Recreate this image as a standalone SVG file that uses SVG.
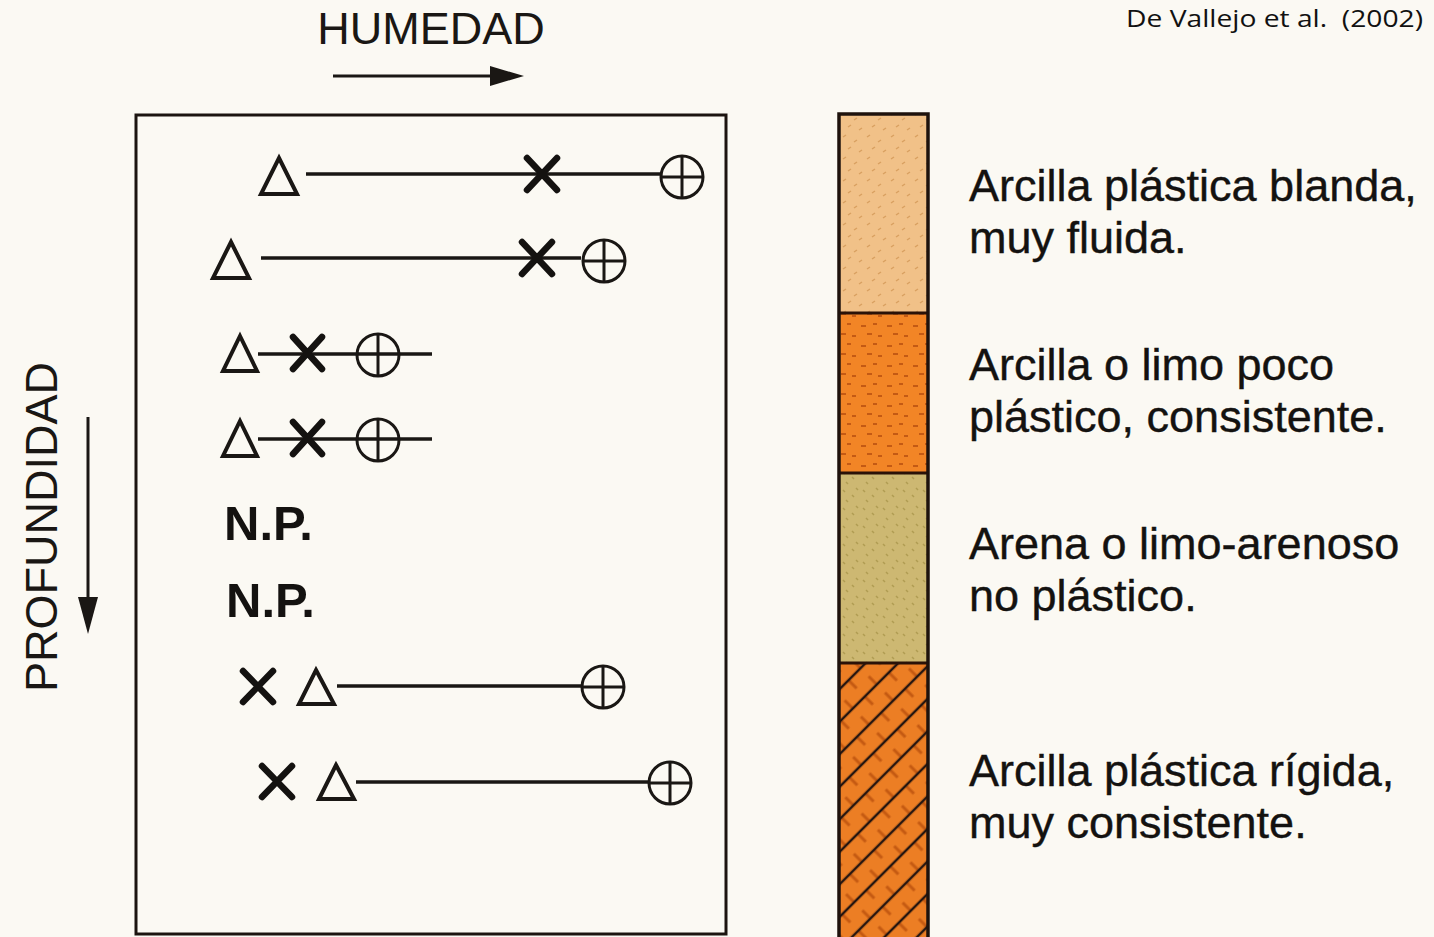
<svg xmlns="http://www.w3.org/2000/svg" width="1434" height="937" viewBox="0 0 1434 937">
  <style>
    .lbl { font-family: "Liberation Sans", Arial, sans-serif; font-size: 45px; fill: #141210; stroke: #141210; stroke-width: 0.4px; }
    .np { font-family: "Liberation Sans", Arial, sans-serif; font-size: 49px; font-weight: bold; fill: #141210; }
    .axis { font-family: "Liberation Sans", Arial, sans-serif; font-size: 45px; fill: #1a1714; }
    .cite { font-family: "Open Sans", "Liberation Sans", sans-serif; font-size: 24px; fill: #111; }
    .rng { stroke: #1a1714; stroke-width: 3.5; fill: none; }
    .tri { stroke: #1a1714; stroke-width: 4; fill: none; stroke-linejoin: miter; }
    .cross { stroke: #141210; stroke-width: 6.5; stroke-linecap: round; fill: none; }
    .liq { stroke: #1a1714; stroke-width: 3; fill: none; }
    .frame { stroke: #1c1410; stroke-width: 3; fill: none; }
    .shaft { stroke: #1a1714; stroke-width: 3; }
    .head { fill: #1a1714; }
  </style>
  <defs>
    <!-- speckle textures for the soil column -->
    <pattern id="speckTan" width="24" height="22" patternUnits="userSpaceOnUse">
      <rect width="24" height="22" fill="#f1c188"/>
      <path d="M3,5 l3,-2 M14,10 l3,-2 M8,17 l3,-2 M19,20 l3,-2" stroke="#d9a060" stroke-width="1.5"/>
    </pattern>
    <pattern id="speckOrange" width="26" height="20" patternUnits="userSpaceOnUse">
      <rect width="26" height="20" fill="#f28526"/>
      <path d="M3,6 h5 M15,4 h4 M9,14 h5 M20,16 h4" stroke="#c45a14" stroke-width="2"/>
    </pattern>
    <pattern id="speckOlive" width="20" height="18" patternUnits="userSpaceOnUse">
      <rect width="20" height="18" fill="#cdb872"/>
      <path d="M3,4 l2,2 M12,9 l2,2 M6,14 l2,2 M16,2 l2,2" stroke="#b09c52" stroke-width="1.5"/>
    </pattern>
    <!-- brick hatching for stiff clay -->
    <pattern id="brick" width="23" height="34" patternUnits="userSpaceOnUse" patternTransform="rotate(45)">
      <rect width="23" height="34" fill="#ec7e24"/>
      <path d="M0,17 H11.5 M11.5,0 H23 M11.5,34 H23" stroke="#c55a12" stroke-width="3"/>
      <line x1="0" y1="0" x2="0" y2="34" stroke="#241510" stroke-width="2.5"/>
      <line x1="23" y1="0" x2="23" y2="34" stroke="#241510" stroke-width="2.5"/>
    </pattern>
  </defs>

  <rect width="1434" height="937" fill="#fbf9f3"/>

  <!-- citation -->
  <text id="cite" class="cite" x="1126" y="27" textLength="297" lengthAdjust="spacingAndGlyphs">De Vallejo et al.&#160; (2002)</text>

  <!-- axes -->
  <g id="axis-humedad">
    <text class="axis" x="431" y="44" text-anchor="middle">HUMEDAD</text>
  </g>
  <g id="axis-profundidad">
    <text class="axis" x="0" y="0" text-anchor="middle" transform="translate(57,527) rotate(-90)">PROFUNDIDAD</text>
  </g>

  <!-- Atterberg limits chart -->
  <g id="chart">
    <rect class="frame" x="136" y="115" width="590" height="819"/>
  </g>

  <g id="connectors">
    <!-- axis arrows -->
    <line class="shaft" x1="333" y1="76" x2="495" y2="76"/>
    <path class="head" d="M490,66 L524,76 L490,86 Z"/>
    <line class="shaft" x1="88" y1="417" x2="88" y2="600"/>
    <path class="head" d="M78,597 L88,634 L98,597 Z"/>
    <!-- plasticity ranges -->
    <line class="rng" x1="306" y1="174" x2="660" y2="174"/>
    <line class="rng" x1="261" y1="258" x2="581" y2="258"/>
    <line class="rng" x1="258" y1="354" x2="432" y2="354"/>
    <line class="rng" x1="258" y1="439" x2="432" y2="439"/>
    <line class="rng" x1="337" y1="686" x2="581" y2="686"/>
    <line class="rng" x1="356" y1="782" x2="648" y2="782"/>
  </g>

  <!-- row 1 -->
  <g id="row1">
    <polygon class="tri" points="279,158 297,194 261,194"/>
    <path class="cross" d="M527,158 L557,190 M557,158 L527,190"/>
    <circle class="liq" cx="682" cy="177" r="21"/>
    <path class="liq" d="M661,177 H703 M682,156 V198"/>
  </g>
  <!-- row 2 -->
  <g id="row2">
    <polygon class="tri" points="231,242 249,278 213,278"/>
    <path class="cross" d="M522,242 L552,274 M552,242 L522,274"/>
    <circle class="liq" cx="604" cy="261" r="21"/>
    <path class="liq" d="M583,261 H625 M604,240 V282"/>
  </g>
  <!-- row 3 -->
  <g id="row3">
    <polygon class="tri" points="240,336 257,371 223,371"/>
    <path class="cross" d="M293,337 L322,369 M322,337 L293,369"/>
    <circle class="liq" cx="378" cy="355" r="21"/>
    <path class="liq" d="M378,334 V376"/>
  </g>
  <!-- row 4 -->
  <g id="row4">
    <polygon class="tri" points="240,421 257,456 223,456"/>
    <path class="cross" d="M293,422 L322,454 M322,422 L293,454"/>
    <circle class="liq" cx="378" cy="440" r="21"/>
    <path class="liq" d="M378,419 V461"/>
  </g>
  <!-- rows 5-6: non plastic -->
  <g id="row5"><text class="np" x="224" y="540">N.P.</text></g>
  <g id="row6"><text class="np" x="226" y="617">N.P.</text></g>
  <!-- row 7 -->
  <g id="row7">
    <path class="cross" d="M243,671 L273,702 M273,671 L243,702"/>
    <polygon class="tri" points="316,670 334,704 299,704"/>
    <circle class="liq" cx="603" cy="687" r="21"/>
    <path class="liq" d="M582,687 H624 M603,666 V708"/>
  </g>
  <!-- row 8 -->
  <g id="row8">
    <path class="cross" d="M262,766 L292,797 M292,766 L262,797"/>
    <polygon class="tri" points="336,765 354,799 319,799"/>
    <circle class="liq" cx="670" cy="783" r="21"/>
    <path class="liq" d="M649,783 H691 M670,762 V804"/>
  </g>

  <!-- soil column -->
  <g id="column">
    <rect x="839" y="114" width="89" height="199" fill="url(#speckTan)"/>
    <rect x="839" y="313" width="89" height="160" fill="url(#speckOrange)"/>
    <rect x="839" y="473" width="89" height="190" fill="url(#speckOlive)"/>
    <rect x="839" y="663" width="89" height="274" fill="url(#brick)"/>
    <path d="M839,313 H928 M839,473 H928 M839,663 H928" stroke="#2a1208" stroke-width="3"/>
    <path d="M839,937 V114 H928 V937" stroke="#1e120c" stroke-width="3.5" fill="none"/>
  </g>

  <!-- legend -->
  <g id="legend1">
    <text class="lbl" x="969" y="201">Arcilla plástica blanda,</text>
    <text class="lbl" x="969" y="253">muy fluida.</text>
  </g>
  <g id="legend2">
    <text class="lbl" x="969" y="380">Arcilla o limo poco</text>
    <text class="lbl" x="969" y="432">plástico, consistente.</text>
  </g>
  <g id="legend3">
    <text class="lbl" x="969" y="559">Arena o limo-arenoso</text>
    <text class="lbl" x="969" y="611">no plástico.</text>
  </g>
  <g id="legend4">
    <text class="lbl" x="969" y="786">Arcilla plástica rígida,</text>
    <text class="lbl" x="969" y="838">muy consistente.</text>
  </g>
</svg>
